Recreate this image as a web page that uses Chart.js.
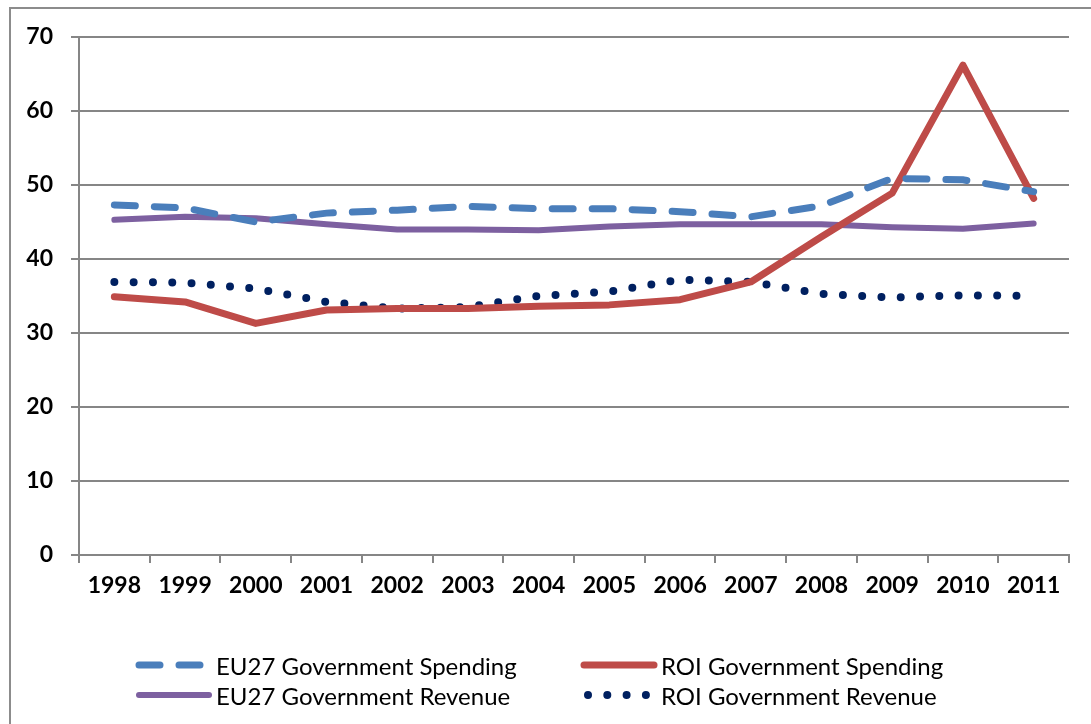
<!DOCTYPE html>
<html>
<head>
<meta charset="utf-8">
<script src="https://cdn.jsdelivr.net/npm/chart.js@4.4.0/dist/chart.umd.min.js"></script>
<style>
  html, body { margin: 0; padding: 0; background: #fff; overflow: hidden; }
  #wrap { position: relative; width: 1091px; height: 724px; }
  #frame { position: absolute; left: 9px; top: 7px; width: 1100px; height: 740px; border: 2px solid #8c8c8c; box-sizing: border-box; }
  #chart { position: absolute; left: 0; top: 0; }
  .legend { position: absolute; font-family: Lato, "Open Sans", sans-serif; font-size: 24px; color: #000; white-space: nowrap; display: flex; align-items: center; }
  .legend svg { margin-right: 3px; }
</style>
</head>
<body>
<div id="wrap">
  <div id="frame"></div>
  <canvas id="chart" width="1091" height="724"></canvas>
  <div id="legend"></div>
</div>
<script>
const years = ['1998','1999','2000','2001','2002','2003','2004','2005','2006','2007','2008','2009','2010','2011'];
const yTicks = [0, 10, 20, 30, 40, 50, 60, 70];

const eu27Spending = [47.3, 46.9, 45.0, 46.2, 46.6, 47.1, 46.8, 46.8, 46.4, 45.7, 47.2, 50.9, 50.7, 49.1];
const roiSpending  = [34.9, 34.2, 31.3, 33.1, 33.3, 33.3, 33.6, 33.8, 34.5, 36.9, 43.0, 48.9, 66.2, 48.2];
const eu27Revenue  = [45.3, 45.7, 45.5, 44.7, 44.0, 44.0, 43.9, 44.4, 44.7, 44.7, 44.7, 44.3, 44.1, 44.8];
const roiRevenue   = [36.9, 36.8, 36.0, 34.2, 33.3, 33.5, 35.0, 35.6, 37.2, 36.9, 35.3, 34.8, 35.1, 35.0];

const seriesNames = ['EU27 Government Spending', 'ROI Government Spending', 'EU27 Government Revenue', 'ROI Government Revenue'];

const datasets = [
  { label: seriesNames[0], data: eu27Spending, borderColor: '#4A7EBB', borderWidth: 7, borderDash: [21, 19], borderCapStyle: 'round' },
  { label: seriesNames[1], data: roiSpending, borderColor: '#BE4B48', borderWidth: 7, borderCapStyle: 'round', borderJoinStyle: 'round' },
  { label: seriesNames[2], data: eu27Revenue, borderColor: '#7D60A0', borderWidth: 6, borderCapStyle: 'round', borderJoinStyle: 'round' },
  { label: seriesNames[3], data: roiRevenue, borderColor: '#002060', borderWidth: 8, borderDash: [0, 19.3], borderCapStyle: 'round' }
];
datasets.forEach(d => { d.pointRadius = 0; d.tension = 0; d.fill = false; });

const tickFont = { family: 'Lato, "Open Sans", sans-serif', size: 23, weight: 'bold' };

new Chart(document.getElementById('chart'), {
  type: 'line',
  data: { labels: years, datasets: datasets },
  options: {
    responsive: false,
    animation: false,
    layout: { padding: { left: 0, top: 37, right: 22, bottom: 0 } },
    plugins: { legend: { display: false }, tooltip: { enabled: false } },
    scales: {
      x: {
        offset: true,
        grid: { offset: true, drawOnChartArea: false, color: '#868686', lineWidth: 2, tickLength: 8 },
        border: { color: '#868686', width: 2 },
        ticks: { color: '#000', font: tickFont, padding: 9, maxRotation: 0, autoSkip: false },
        afterFit: s => { s.height = 169; }
      },
      y: {
        min: 0, max: 70,
        afterBuildTicks: s => { s.ticks = yTicks.map(v => ({ value: v })); },
        grid: { color: '#868686', lineWidth: 2, tickLength: 8 },
        border: { color: '#868686', width: 2 },
        ticks: { color: '#000', font: tickFont, padding: 18 },
        afterFit: s => { s.width = 79; }
      }
    }
  }
});

// legend, laid out as two rows of two like the original
const legendPos = [[135, 665], [580, 665], [135, 695], [580, 695]];
const legend = document.getElementById('legend');
datasets.forEach((d, i) => {
  const item = document.createElement('div');
  item.className = 'legend';
  item.style.left = legendPos[i][0] + 'px';
  item.style.top = (legendPos[i][1] - 15) + 'px';
  const dash = d.borderDash ? `stroke-dasharray="${d.borderDash.join(' ')}"` : '';
  const x1 = d.borderDash && d.borderDash[0] === 0 ? 8 : 4;
  item.innerHTML = `<svg width="78" height="30"><line x1="${x1}" y1="15" x2="74" y2="15" stroke="${d.borderColor}" stroke-width="${d.borderWidth}" stroke-linecap="round" ${dash}/></svg><span>${d.label}</span>`;
  legend.appendChild(item);
});
</script>
</body>
</html>
